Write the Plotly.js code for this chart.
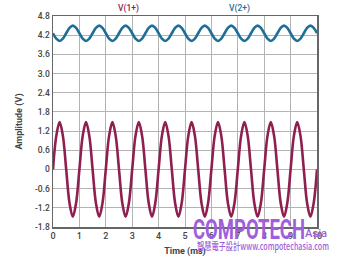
<!DOCTYPE html>
<html><head><meta charset="utf-8">
<script src="https://cdn.plot.ly/plotly-3.0.1.min.js"></script>
<style>
html,body{margin:0;padding:0;background:#fff}
#wrap{position:relative;width:337px;height:258px;overflow:hidden}
#chart{width:337px;height:258px}
.wm{position:absolute;white-space:nowrap;color:#9f5fdc;transform-origin:0 0;pointer-events:none}
</style>
</head><body><div id="wrap"><div id="chart"></div>
<div class="wm" id="wm1" style="left:193px;top:216px;font:bold 28px/28px Roboto,sans-serif">COMPOTECH</div>
<div class="wm" id="wm2" style="left:305px;top:228px;font:500 11px/11px Roboto,sans-serif">Asia</div>
<div class="wm" id="wm3" style="left:197px;top:240px;font:500 10px/11px 'Noto Sans CJK TC',sans-serif">智慧電子設計www.compotechasia.com</div>
</div>
<script>
const timeMs = [0,0.125,0.25,0.375,0.5,0.625,0.75,0.875,
1,1.125,1.25,1.375,1.5,1.625,1.75,1.875,
2,2.125,2.25,2.375,2.5,2.625,2.75,2.875,
3,3.125,3.25,3.375,3.5,3.625,3.75,3.875,
4,4.125,4.25,4.375,4.5,4.625,4.75,4.875,
5,5.125,5.25,5.375,5.5,5.625,5.75,5.875,
6,6.125,6.25,6.375,6.5,6.625,6.75,6.875,
7,7.125,7.25,7.375,7.5,7.625,7.75,7.875,
8,8.125,8.25,8.375,8.5,8.625,8.75,8.875,
9,9.125,9.25,9.375,9.5,9.625,9.75,9.875,10];
const v1 = [0,1.05,1.48,1.05,0,-1.05,-1.48,-1.05,
0,1.05,1.48,1.05,0,-1.05,-1.48,-1.05,
0,1.05,1.48,1.05,0,-1.05,-1.48,-1.05,
0,1.05,1.48,1.05,0,-1.05,-1.48,-1.05,
0,1.05,1.48,1.05,0,-1.05,-1.48,-1.05,
0,1.05,1.48,1.05,0,-1.05,-1.48,-1.05,
0,1.05,1.48,1.05,0,-1.05,-1.48,-1.05,
0,1.05,1.48,1.05,0,-1.05,-1.48,-1.05,
0,1.05,1.48,1.05,0,-1.05,-1.48,-1.05,
0,1.05,1.48,1.05,0,-1.05,-1.48,-1.05,0];
const v2 = [4.26,4.09,4.02,4.09,4.26,4.43,4.50,4.43,
4.26,4.09,4.02,4.09,4.26,4.43,4.50,4.43,
4.26,4.09,4.02,4.09,4.26,4.43,4.50,4.43,
4.26,4.09,4.02,4.09,4.26,4.43,4.50,4.43,
4.26,4.09,4.02,4.09,4.26,4.43,4.50,4.43,
4.26,4.09,4.02,4.09,4.26,4.43,4.50,4.43,
4.26,4.09,4.02,4.09,4.26,4.43,4.50,4.43,
4.26,4.09,4.02,4.09,4.26,4.43,4.50,4.43,
4.26,4.09,4.02,4.09,4.26,4.43,4.50,4.43,
4.26,4.09,4.02,4.09,4.26,4.43,4.50,4.43,4.26];
const yTickVals = [-1.8,-1.2,-0.6,0,0.6,1.2,1.8,2.4,3.0,3.6,4.2,4.8];
const yTickText = ["-1.8","-1.2","-0.6","0","0.6","1.2","1.8","2.4","3.0","3.6","4.2","4.8"];
const xTickVals = [0,1,2,3,4,5,6,7,8,9,10];
const seriesNames = ["V(1+)","V(2+)"];

const RED = "#8e1f4f", BLUE = "#1f6e96";
const traces = [
  {x: timeMs, y: v1, name: seriesNames[0], mode: "lines", line: {color: RED, width: 2.6, shape: "spline"}},
  {x: timeMs, y: v2, name: seriesNames[1], mode: "lines", line: {color: BLUE, width: 2.6, shape: "spline"}}
];
const layout = {
  width: 337, height: 258,
  margin: {l: 53, r: 20, t: 16, b: 31, pad: 0},
  paper_bgcolor: "#fff", plot_bgcolor: "#fff",
  showlegend: false,
  font: {family: "Roboto, sans-serif", size: 9, color: "#444"},
  xaxis: {range: [0, 10], tickvals: xTickVals, ticktext: xTickVals.map(String),
    showgrid: true, gridcolor: "#b3b3b3", gridwidth: 1, zeroline: false,
    showline: true, linecolor: "#666", linewidth: 1.5, mirror: true, ticks: "",
    tickfont: {size: 9, color: "#444", weight: 500},
    title: {text: "<b>Time (ms)</b>", font: {size: 9, color: "#444"}, standoff: 7}},
  yaxis: {range: [-1.8, 4.8], tickvals: yTickVals, ticktext: yTickText,
    showgrid: true, gridcolor: "#b3b3b3", gridwidth: 1, zeroline: false,
    showline: true, linecolor: "#666", linewidth: 1.5, mirror: true, ticks: "",
    tickfont: {size: 8.5, color: "#444", weight: 500},
    title: {text: "<b>Amplitude (V)</b>", font: {size: 9, color: "#444"}, standoff: 10}},
  annotations: [
    {xref: "paper", yref: "paper", x: 0.24, y: 1.0, yanchor: "bottom", text: seriesNames[0], showarrow: false, font: {size: 8.5, color: RED, weight: 500}},
    {xref: "paper", yref: "paper", x: 0.752, y: 1.0, yanchor: "bottom", text: seriesNames[1], showarrow: false, font: {size: 8.5, color: BLUE, weight: 500}}
  ]
};
Plotly.newPlot("chart", traces, layout, {staticPlot: true, displayModeBar: false});
function fit(id, w) {
  const el = document.getElementById(id);
  const s = w / el.getBoundingClientRect().width;
  el.style.transform = "scaleX(" + s + ")";
}
fit("wm1", 112); fit("wm2", 22); fit("wm3", 132);
</script></body></html>
